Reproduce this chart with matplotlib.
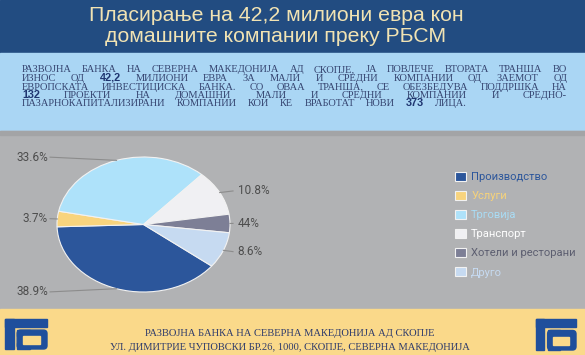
import matplotlib
matplotlib.use("Agg")
import matplotlib.pyplot as plt
import numpy as np
from matplotlib.patches import Rectangle, FancyBboxPatch

# ---------------- data ----------------
categories = ["Производство", "Услуги", "Трговија", "Транспорт",
              "Хотели и ресторани", "Друго"]
shares = [38.9, 3.7, 33.6, 10.8, 4.4, 8.6]
share_labels = ["38.9%", "3.7%", "33.6%", "10.8%", "44%", "8.6%"]
slice_colors = ["#2c569b", "#f8d47e", "#aee2fa", "#f0f0f3", "#7d7f96", "#c6daf1"]
legend_text_colors = ["#2c569b", "#f6d27a", "#a9dcf5", "#ffffff", "#5c5e70", "#c6daf1"]

title_lines = ["Пласирање на 42,2 милиони евра кон",
               "домашните компании преку РБСМ"]
body_lines = [
    "РАЗВОЈНА БАНКА НА СЕВЕРНА МАКЕДОНИЈА АД СКОПЈЕ, ЈА ПОВЛЕЧЕ ВТОРАТА ТРАНША ВО",
    "ИЗНОС ОД 42,2 МИЛИОНИ ЕВРА ЗА МАЛИ И СРЕДНИ КОМПАНИИ ОД ЗАЕМОТ ОД",
    "ЕВРОПСКАТА ИНВЕСТИЦИСКА БАНКА. СО ОВАА ТРАНША, СЕ ОБЕЗБЕДУВА ПОДДРШКА НА",
    "132 ПРОЕКТИ НА ДОМАШНИ МАЛИ И СРЕДНИ КОМПАНИИ И СРЕДНО-",
    "ПАЗАРНОКАПИТАЛИЗИРАНИ КОМПАНИИ КОИ ЌЕ ВРАБОТАТ НОВИ 373 ЛИЦА.",
]
bold_words = {"42,2", "132", "373"}
footer_lines = ["РАЗВОЈНА БАНКА НА СЕВЕРНА МАКЕДОНИЈА АД СКОПЈЕ",
                "УЛ. ДИМИТРИЕ ЧУПОВСКИ БР.26, 1000, СКОПЈЕ, СЕВЕРНА МАКЕДОНИЈА"]

# ---------------- figure ----------------
W, H = 585, 355
fig = plt.figure(figsize=(W / 100, H / 100), dpi=100)
bg = fig.add_axes([0, 0, 1, 1])
bg.set_xlim(0, W)
bg.set_ylim(H, 0)
bg.axis("off")

bg.add_patch(Rectangle((0, 0), W, 53, color="#224c81", zorder=0))
bg.add_patch(Rectangle((0, 53), W, 78, color="#aad6f4", zorder=0))
bg.add_patch(Rectangle((0, 131), W, 178, color="#b1b2b4", zorder=0))
bg.add_patch(Rectangle((0, 131), W, 4, color="#a3a4a6", zorder=0))
bg.add_patch(Rectangle((0, 309), W, 46, color="#fad98a", zorder=0))

# title
for i, line in enumerate(title_lines):
    bg.text(276, 21 + 21 * i, line, ha="center", va="baseline", fontsize=15.3,
            color="#f1e3b3", family="Liberation Sans")

# body text (justified)
fig.canvas.draw()
renderer = fig.canvas.get_renderer()
x_left = 22
right_edges = [567, 567, 567, 567, 467]
for i, line in enumerate(body_lines):
    y = 72.5 + 8.5 * i
    words = line.split()
    texts = []
    for w in words:
        if w in bold_words:
            t = bg.text(0, y, w, fontsize=7.8, family="Liberation Sans",
                        weight="bold", color="#1f3570", va="baseline")
        else:
            t = bg.text(0, y, w, fontsize=7.5, family="Liberation Serif",
                        color="#34436f", va="baseline")
        texts.append(t)
    widths = [t.get_window_extent(renderer).width for t in texts]
    gap = (right_edges[i] - x_left - sum(widths)) / (len(words) - 1)
    x = x_left
    for t, w in zip(texts, widths):
        t.set_x(x)
        x += w + gap

# ---------------- pie ----------------
cx, cy, rx, ry = 143.5, 224.5, 86.5, 67.5
pax = fig.add_axes([(cx - rx) / W, 1 - (cy + ry) / H, 2 * rx / W, 2 * ry / H])
wedges, _ = pax.pie(shares, colors=slice_colors, startangle=-38,
                    counterclock=False, radius=1,
                    wedgeprops=dict(edgecolor="#f2f2f2", linewidth=0.8))
pax.set_aspect("auto")
pax.set_xlim(-1, 1)
pax.set_ylim(-1, 1)
pax.axis("off")

for w, lab in zip(wedges, share_labels):
    mid = np.deg2rad((w.theta1 + w.theta2) / 2)
    ex, ey = np.cos(mid), np.sin(mid)
    ty = 1.05 * ey
    if ex > 0:
        tx, lx, ha = 1.09, 1.035, "left"
    else:
        tx, lx, ha = -1.105, -1.08, "right"
    pax.plot([ex, lx], [ey, ty], color="#8c8c8c", lw=0.8, clip_on=False)
    pax.text(tx, ty, lab, ha=ha, va="center", fontsize=8.5, color="#4d4d4d",
             family="Roboto", clip_on=False)

# legend
leg = bg.legend(wedges, categories, loc="upper left",
                bbox_to_anchor=(455 / W, 1 - 172 / H), frameon=False,
                handlelength=0.95, handleheight=0.85,
                handletextpad=0.5, labelspacing=0.79, borderpad=0,
                borderaxespad=0, prop={"family": "Roboto", "size": 8})
for t, c in zip(leg.get_texts(), legend_text_colors):
    t.set_color(c)

# ---------------- footer ----------------
for i, line in enumerate(footer_lines):
    bg.text(290, 335.5 + 14.5 * i, line, ha="center", va="baseline",
            fontsize=7.6, color="#2e3b6b", family="Liberation Serif")


def draw_logo(ax, x0, y0, w, h, color="#1f4f9c", hole="#fad98a"):
    # outer "Г"
    ax.add_patch(Rectangle((x0, y0), w, 0.27 * h, color=color, zorder=3))
    ax.add_patch(Rectangle((x0, y0), 0.21 * w, h, color=color, zorder=3))
    # inner bowl
    ax.add_patch(FancyBboxPatch((x0 + 0.29 * w, y0 + 0.37 * h),
                                0.71 * w, 0.63 * h,
                                boxstyle="round,pad=0,rounding_size=3.5",
                                color=color, zorder=3))
    ax.add_patch(Rectangle((x0 + 0.29 * w, y0 + 0.8 * h), 0.3 * w, 0.2 * h,
                           color=color, zorder=3))
    ax.add_patch(Rectangle((x0 + 0.29 * w, y0 + 0.37 * h), 0.3 * w, 0.2 * h,
                           color=color, zorder=3))
    ax.add_patch(Rectangle((x0 + 0.43 * w, y0 + 0.57 * h), 0.4 * w, 0.26 * h,
                           color=hole, zorder=4))


draw_logo(bg, 5, 319, 42, 30)
draw_logo(bg, 536, 319, 40, 31)

fig.savefig("out.png", dpi=100)
